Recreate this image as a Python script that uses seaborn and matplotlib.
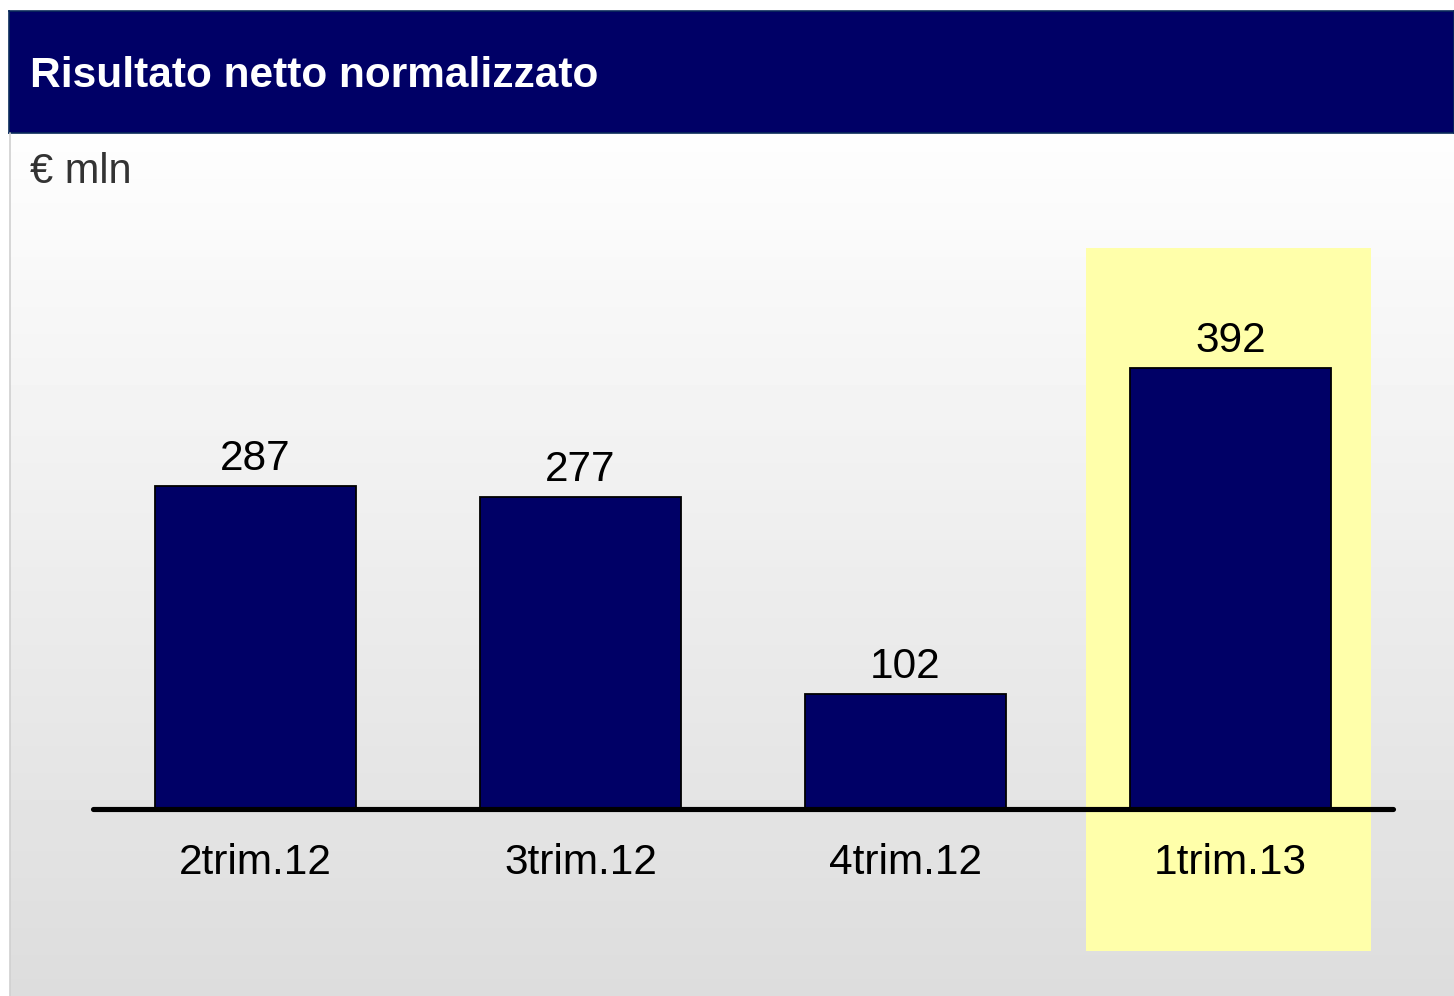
import numpy as np
import pandas as pd
import seaborn as sns
import matplotlib.pyplot as plt
from matplotlib.patches import Rectangle

periods = ["2trim.12", "3trim.12", "4trim.12", "1trim.13"]
risultato = [287, 277, 102, 392]
highlight = "1trim.13"

sns.set_theme(style="white")
plt.rcParams["font.family"] = ["Liberation Sans", "DejaVu Sans"]

W, H = 1454, 996
fig = plt.figure(figsize=(W / 100, H / 100), dpi=100)
fig.patch.set_facecolor("white")


def px_box(x0, y0, x1, y1):
    # pixel box (top-left origin) -> figure fraction rect
    return [x0 / W, 1 - y1 / H, (x1 - x0) / W, (y1 - y0) / H]


# gradient background under the header
bg = fig.add_axes(px_box(10, 133, W, H))
grad = np.linspace(0.995, 0.865, 256).reshape(-1, 1)
bg.imshow(grad, cmap="gray", vmin=0, vmax=1, aspect="auto",
          extent=[0, 1, 0, 1])
bg.set_axis_off()
fig.add_artist(plt.Line2D([9.5 / W, 9.5 / W], [0, 1 - 133 / H],
                          color="#d0d0d0", lw=1.2))

# header bar
head = fig.add_axes(px_box(9, 11, W, 133))
head.set_facecolor("#000066")
head.set_xticks([])
head.set_yticks([])
for s in head.spines.values():
    s.set_color("#0a2a5a")
    s.set_linewidth(1.2)
head.text(21 / (W - 9), 0.47, "Risultato netto normalizzato", color="white",
          fontsize=30.5, fontweight="bold", va="center", ha="left",
          transform=head.transAxes)

fig.text(30 / W, 1 - 172 / H, "€ mln", fontsize=30, color="#333333",
         va="center", ha="left")

# main chart
scale = 1.125  # px per unit
y_bot = -(990 - 809) / scale
y_top = (809 - 140) / scale
ax = fig.add_axes(px_box(93, 140, 1393, 990))
ax.patch.set_alpha(0)

df = pd.DataFrame({"periodo": periods, "valore": risultato})
sns.barplot(data=df, x="periodo", y="valore", color="#000066",
            saturation=1, width=0.62, edgecolor="black", linewidth=1.3,
            ax=ax, zorder=3)

hi = periods.index(highlight)
ax.add_patch(Rectangle((hi - 0.446, -(951 - 809) / scale), 0.877,
                       (951 - 248) / scale, facecolor="#ffffaa",
                       edgecolor="none", zorder=1))

ax.axhline(0, color="black", lw=3.7, solid_capstyle="round",
           zorder=4, clip_on=False)

ax.bar_label(ax.containers[0], labels=[str(v) for v in risultato],
             fontsize=30.5, padding=5, color="black")

ax.set_xlim(-0.5, 3.5)
ax.set_ylim(y_bot, y_top)
ax.set_xlabel("")
ax.set_ylabel("")
ax.set_yticks([])
ax.set_xticks([])
sns.despine(ax=ax, left=True, bottom=True)

# category labels just below the baseline
for i, p in enumerate(periods):
    ax.annotate(p, (i, 0), xytext=(0, -54), textcoords="offset pixels",
                ha="center", va="center", fontsize=30.5, color="black",
                zorder=5)

fig.savefig("out.png", dpi=100)
